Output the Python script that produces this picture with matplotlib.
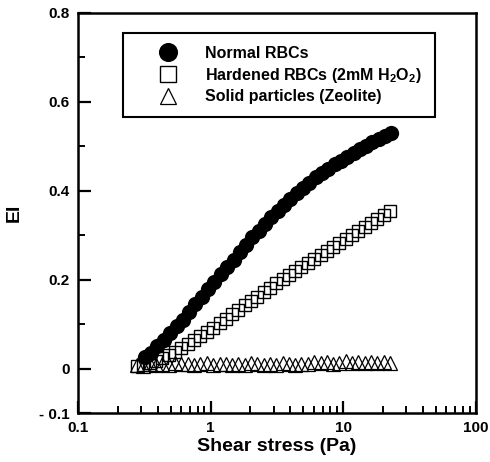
import matplotlib
matplotlib.use("Agg")
import matplotlib.pyplot as plt
from matplotlib.ticker import FixedLocator, NullFormatter

plt.rcParams["font.family"] = ["Liberation Sans", "DejaVu Sans"]
plt.rcParams["font.weight"] = "bold"
plt.rcParams["mathtext.fontset"] = "custom"
plt.rcParams["mathtext.rm"] = "Liberation Sans:bold"
plt.rcParams["mathtext.default"] = "rm"

# Normal RBCs
normal_x = [0.32, 0.357, 0.398, 0.445, 0.496, 0.554, 0.618, 0.690, 0.770, 0.859,
            0.959, 1.07, 1.19, 1.33, 1.49, 1.66, 1.85, 2.07, 2.31, 2.57,
            2.87, 3.21, 3.58, 3.99, 4.46, 4.97, 5.55, 6.20, 6.91, 7.72,
            8.61, 9.61, 10.7, 12.0, 13.4, 14.9, 16.6, 18.6, 20.7, 23.1]
normal_y = [0.025, 0.035, 0.050, 0.065, 0.080, 0.095, 0.110, 0.128, 0.145, 0.160,
            0.178, 0.195, 0.212, 0.228, 0.245, 0.262, 0.278, 0.295, 0.310, 0.325,
            0.340, 0.355, 0.368, 0.381, 0.394, 0.406, 0.418, 0.430, 0.440, 0.450,
            0.460, 0.468, 0.477, 0.485, 0.493, 0.501, 0.509, 0.517, 0.524, 0.531]

# Hardened RBCs (2mM H2O2)
hard_x = [0.28, 0.312, 0.349, 0.389, 0.434, 0.485, 0.541, 0.604, 0.674, 0.752,
          0.839, 0.937, 1.05, 1.17, 1.30, 1.45, 1.62, 1.81, 2.02, 2.25,
          2.51, 2.80, 3.13, 3.49, 3.90, 4.35, 4.85, 5.42, 6.04, 6.75,
          7.53, 8.40, 9.38, 10.5, 11.7, 13.0, 14.6, 16.3, 18.1, 20.2, 22.6]
hard_y = [0.005, 0.008, 0.012, 0.018, 0.024, 0.031, 0.038, 0.046, 0.055, 0.064,
          0.073, 0.082, 0.092, 0.102, 0.112, 0.122, 0.132, 0.142, 0.152, 0.162,
          0.172, 0.182, 0.192, 0.201, 0.210, 0.219, 0.228, 0.237, 0.246, 0.255,
          0.264, 0.273, 0.282, 0.291, 0.300, 0.309, 0.318, 0.327, 0.336, 0.345, 0.354]

# Solid particles (Zeolite)
zeo_x = [0.28, 0.312, 0.349, 0.389, 0.434, 0.485, 0.541, 0.604, 0.674, 0.752,
         0.839, 0.937, 1.05, 1.17, 1.30, 1.45, 1.62, 1.81, 2.02, 2.25,
         2.51, 2.80, 3.13, 3.49, 3.90, 4.35, 4.85, 5.42, 6.04, 6.75,
         7.53, 8.40, 9.38, 10.5, 11.7, 13.0, 14.6, 16.3, 18.1, 20.2, 22.6]
zeo_y = [0.008, 0.006, 0.010, 0.007, 0.011, 0.009, 0.012, 0.010, 0.011, 0.008,
         0.010, 0.012, 0.009, 0.011, 0.010, 0.008, 0.011, 0.009, 0.012, 0.010,
         0.008, 0.011, 0.009, 0.012, 0.010, 0.008, 0.011, 0.010, 0.014, 0.012,
         0.015, 0.011, 0.013, 0.016, 0.012, 0.014, 0.013, 0.015, 0.012, 0.014, 0.012]

fig = plt.figure(figsize=(4.9, 4.62), dpi=100)
ax = fig.add_axes([0.159, 0.106, 0.812, 0.866])

ax.plot(normal_x, normal_y, "o", color="black", ms=11, mew=0, label="Normal RBCs", zorder=3)
ax.plot(hard_x, hard_y, "s", mfc="none", mec="black", ms=9, mew=1.0,
        label="Hardened RBCs (2mM H$_2$O$_2$)", zorder=2)
ax.plot(zeo_x, zeo_y, "^", mfc="none", mec="black", ms=9.5, mew=0.9,
        label="Solid particles (Zeolite)", zorder=1)

ax.set_xscale("log")
ax.set_xlim(0.1, 100)
ax.set_ylim(-0.1, 0.8)

ax.xaxis.set_major_locator(FixedLocator([0.1, 1, 10, 100]))
ax.set_xticklabels(["0.1", "1", "10", "100"])
ax.xaxis.set_minor_locator(FixedLocator([m * d for d in (0.1, 1, 10) for m in range(2, 10)]))
ax.xaxis.set_minor_formatter(NullFormatter())

ax.yaxis.set_major_locator(FixedLocator([-0.1, 0, 0.2, 0.4, 0.6, 0.8]))
ax.set_yticklabels(["- 0.1", "0", "0.2", "0.4", "0.6", "0.8"])
ax.yaxis.set_minor_locator(FixedLocator([0.1, 0.3, 0.5, 0.7]))

ax.tick_params(which="major", direction="in", length=9, width=1.6, labelsize=11, pad=6)
ax.tick_params(which="minor", direction="in", length=5, width=1.4)
for lab in ax.get_xticklabels() + ax.get_yticklabels():
    lab.set_fontweight("bold")
for s in ax.spines.values():
    s.set_linewidth(1.8)

ax.set_xlabel("Shear stress (Pa)", fontsize=14, fontweight="bold", labelpad=2)
ax.set_ylabel("EI", fontsize=14, fontweight="bold", labelpad=12)

leg = ax.legend(loc="upper left", bbox_to_anchor=(0.113, 0.95), borderaxespad=0,
                fancybox=False, edgecolor="black", fontsize=11.5, handletextpad=0.35,
                borderpad=0.8, labelspacing=0.3, handlelength=4.0, markerscale=1.25,
                framealpha=1)
leg.get_frame().set_linewidth(1.5)
for t in leg.get_texts():
    t.set_fontweight("bold")

fig.savefig("out.png", dpi=100)
